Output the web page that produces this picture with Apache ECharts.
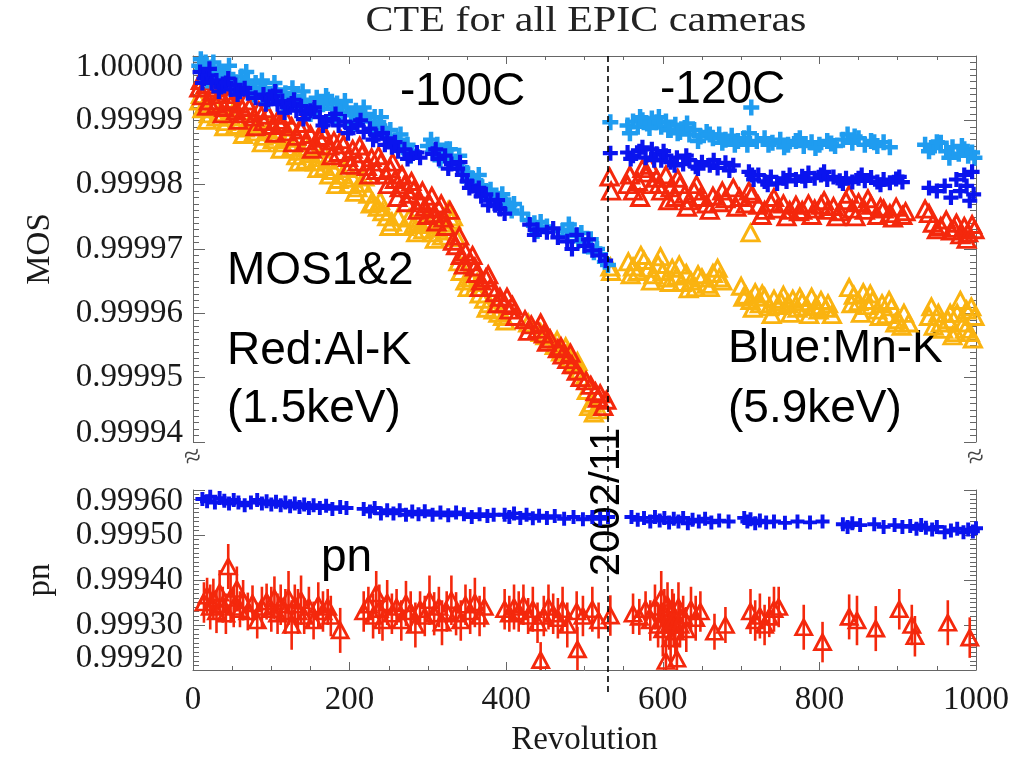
<!DOCTYPE html>
<html>
<head>
<meta charset="utf-8">
<script src="https://cdn.jsdelivr.net/npm/echarts@6/dist/echarts.min.js"></script>
<style>
html,body{margin:0;padding:0;background:#fff;}
#chart{width:1029px;height:758px;}
</style>
</head>
<body>
<div id="chart"></div>
<script>
// ---------------- DATA ----------------
const titleText = 'CTE for all EPIC cameras';
const xRange = [0, 1000];
const xStep = 200;
const mosRange = [0.99994, 1.00000];
const mosStep = 0.00001;
const pnRange = [0.99920, 0.99960];
const pnStep = 0.0001;
const dividerRev = [530];

// MOS Mn-K (light blue crosses)
const mosMnLight = [[8,0.9999985],[12,0.9999978],[16,0.9999990],[20,0.9999975],[24,0.9999982],[28,0.9999970],[33,0.9999978],[38,0.9999965],[44,0.9999972],[50,0.9999960],[56,0.9999958],
[62,0.9999968],[66,0.9999955],[70,0.9999962],[75,0.9999950],[80,0.9999958],[86,0.9999945],[92,0.9999950],
[100,0.9999940],[106,0.9999948],[112,0.9999935],[118,0.9999942],[124,0.9999930],[130,0.9999938],[136,0.9999925],
[142,0.9999932],[148,0.9999920],[154,0.9999915],[160,0.9999925],
[166,0.9999925],[172,0.9999932],[178,0.9999918],[184,0.9999926],[190,0.9999912],[196,0.9999920],[202,0.9999908],[208,0.9999915],[214,0.9999902],[220,0.9999910],[226,0.9999898],[232,0.9999905],[238,0.9999892],[244,0.9999888],
[250,0.9999875],[256,0.9999865],[262,0.9999870],[268,0.9999858],[274,0.9999862],[280,0.9999852],
[300,0.9999860],[306,0.9999850],[312,0.9999862],[318,0.9999845],[324,0.9999855],[330,0.9999840],
[338,0.9999835],[344,0.9999825],[350,0.9999818],[356,0.9999810],[362,0.9999805],[368,0.9999798],[374,0.9999790],[380,0.9999792],[386,0.9999782],[392,0.9999778],[398,0.9999772],[404,0.9999768],[410,0.9999770],
[428,0.9999745],[436,0.9999740],[444,0.9999742],[452,0.9999735],
[472,0.9999728],[478,0.9999720],[484,0.9999730],[492,0.9999712],[500,0.9999705],[508,0.9999715],[516,0.9999700],
[520,0.9999692],[526,0.9999680],[530,0.9999675],
[10,0.9999995],[18,0.9999962],[26,0.9999990],[35,0.9999958],[46,0.9999985],[58,0.9999945],[68,0.9999975],[78,0.9999940],[88,0.9999962],[96,0.9999930],[104,0.9999958],[115,0.9999925],[127,0.9999950],[140,0.9999945],[150,0.9999910],[158,0.9999935],[170,0.9999938],[182,0.9999905],[194,0.9999930],[206,0.9999895],[218,0.9999920],[230,0.9999885],[240,0.9999905],[252,0.9999885],[265,0.9999878],[278,0.9999845],[304,0.9999870],[316,0.9999838],[328,0.9999855],[340,0.9999845],[352,0.9999805],[365,0.9999815],[378,0.9999780],[395,0.9999785],[407,0.9999760],[420,0.9999755],[440,0.9999728],[480,0.9999738],[496,0.9999725],[512,0.9999695],
[533,0.9999897],
[555,0.9999892],[562,0.9999898],[568,0.9999890],[574,0.9999900],[580,0.9999895],[586,0.9999903],[592,0.9999897],[598,0.9999890],[604,0.9999898],[610,0.9999885],[616,0.9999893],[622,0.9999882],[628,0.9999888],[634,0.9999878],[640,0.9999885],[648,0.9999875],[656,0.9999882],[664,0.9999872],[672,0.9999878],[680,0.9999870],[688,0.9999876],[696,0.9999868],[704,0.9999872],[710,0.9999880],[713,0.9999920],[720,0.9999868],
[730,0.9999872],[740,0.9999865],[750,0.9999870],[760,0.9999862],[770,0.9999868],[780,0.9999860],[790,0.9999866],[800,0.9999862],[810,0.9999868],[820,0.9999860],[830,0.9999870],[836,0.9999878],[842,0.9999865],[850,0.9999872],[858,0.9999862],[866,0.9999868],[874,0.9999860],[882,0.9999866],[890,0.9999858],
[935,0.9999862],[945,0.9999858],[955,0.9999865],[962,0.9999852],[970,0.9999858],[978,0.9999848],[985,0.9999855],[990,0.9999845],[995,0.9999850],
[558,0.9999880],[571,0.9999905],[583,0.9999888],[595,0.9999905],[607,0.9999885],[619,0.9999880],[631,0.9999895],[645,0.9999868],[660,0.9999878],[676,0.9999865],[692,0.9999862],[708,0.9999862],[735,0.9999862],[755,0.9999858],[775,0.9999872],[795,0.9999857],[815,0.9999864],[845,0.9999875],[870,0.9999866],[940,0.9999852],[950,0.9999866],[966,0.9999842],[982,0.9999860],[998,0.9999842]];

// MOS Mn-K (dark blue crosses)
const mosMnDark = [[9,0.9999975],[14,0.9999965],[19,0.9999970],[24,0.9999958],[30,0.9999962],[36,0.9999952],[42,0.9999958],[48,0.9999948],[54,0.9999955],[60,0.9999945],[66,0.9999950],
[90,0.9999940],[96,0.9999932],[102,0.9999938],[108,0.9999925],[114,0.9999930],[120,0.9999920],[126,0.9999926],[132,0.9999915],[138,0.9999922],[144,0.9999910],[150,0.9999915],
[162,0.9999905],[170,0.9999898],[178,0.9999902],[186,0.9999892],[194,0.9999898],[202,0.9999888],[210,0.9999893],[218,0.9999882],[226,0.9999887],[234,0.9999876],[242,0.9999880],[248,0.9999872],
[254,0.9999858],[262,0.9999852],[270,0.9999855],[278,0.9999845],[286,0.9999850],
[306,0.9999848],[314,0.9999840],[322,0.9999845],[330,0.9999832],[338,0.9999825],
[344,0.9999815],[350,0.9999805],[356,0.9999798],[362,0.9999790],[368,0.9999782],[374,0.9999785],[380,0.9999775],[386,0.9999768],[392,0.9999762],
[430,0.9999738],[440,0.9999730],[452,0.9999726],[466,0.9999718],[478,0.9999712],[490,0.9999722],[500,0.9999705],[510,0.9999698],
[520,0.9999690],[527,0.9999682],
[12,0.9999958],[21,0.9999980],[33,0.9999945],[45,0.9999965],[57,0.9999940],[70,0.9999942],[80,0.9999935],[93,0.9999925],[105,0.9999945],[117,0.9999912],[129,0.9999932],[141,0.9999902],[155,0.9999920],[166,0.9999892],[182,0.9999910],[198,0.9999880],[214,0.9999900],[230,0.9999870],[245,0.9999862],[258,0.9999866],[274,0.9999840],[290,0.9999842],[310,0.9999855],[326,0.9999825],[341,0.9999835],[353,0.9999795],[365,0.9999795],[377,0.9999768],[389,0.9999776],[398,0.9999755],[436,0.9999722],[460,0.9999732],[484,0.9999700],[505,0.9999715],
[533,0.9999849],
[555,0.9999850],[562,0.9999845],[570,0.9999852],[578,0.9999842],[586,0.9999855],[592,0.9999848],[598,0.9999838],[604,0.9999845],[610,0.9999835],[618,0.9999842],[626,0.9999832],[634,0.9999838],[642,0.9999828],[650,0.9999835],[660,0.9999830],[670,0.9999826],[680,0.9999834],[690,0.9999830],
[710,0.9999820],[716,0.9999808],[722,0.9999815],[730,0.9999805],[738,0.9999812],[746,0.9999802],[754,0.9999810],[762,0.9999815],[770,0.9999808],[778,0.9999813],[786,0.9999818],[794,0.9999810],[802,0.9999815],[810,0.9999808],[818,0.9999812],[826,0.9999806],[834,0.9999810],[842,0.9999804],[850,0.9999810],[858,0.9999806],[866,0.9999811],[874,0.9999804],[882,0.9999808],[890,0.9999803],[898,0.9999809],[906,0.9999804],
[940,0.9999795],[950,0.9999790],[960,0.9999798],[968,0.9999780],[975,0.9999808],[980,0.9999790],[985,0.9999815],[988,0.9999798],[992,0.9999775],[995,0.9999820],[997,0.9999785],
[559,0.9999840],[574,0.9999858],[589,0.9999838],[601,0.9999852],[615,0.9999830],[630,0.9999845],[645,0.9999825],[665,0.9999838],[685,0.9999822],[714,0.9999815],[734,0.9999800],[758,0.9999805],[782,0.9999806],[806,0.9999820],[830,0.9999802],[854,0.9999815],[878,0.9999800],[902,0.9999812]];

// MOS Al-K (red triangles)
const mosAlRed = [[8,0.9999950],[12,0.9999938],[16,0.9999955],[20,0.9999930],[25,0.9999945],[30,0.9999925],[35,0.9999940],[40,0.9999920],[45,0.9999932],
[50,0.9999928],[55,0.9999915],[60,0.9999925],[66,0.9999910],[72,0.9999920],[78,0.9999905],[84,0.9999915],[90,0.9999898],[96,0.9999908],[102,0.9999892],[108,0.9999900],
[114,0.9999895],[120,0.9999882],[126,0.9999890],[132,0.9999875],[138,0.9999885],[144,0.9999868],[150,0.9999878],[156,0.9999862],[162,0.9999872],
[168,0.9999875],[174,0.9999860],[180,0.9999868],[186,0.9999850],[192,0.9999862],[198,0.9999842],[204,0.9999855],[210,0.9999835],[216,0.9999848],[222,0.9999828],[228,0.9999842],[234,0.9999822],[240,0.9999835],[246,0.9999815],[252,0.9999825],
[258,0.9999808],[264,0.9999795],[270,0.9999800],[276,0.9999785],[282,0.9999792],
[290,0.9999775],[296,0.9999765],[302,0.9999770],[308,0.9999755],[314,0.9999762],[320,0.9999748],
[332,0.9999712],[336,0.9999705],[342,0.9999690],[348,0.9999695],[354,0.9999680],[360,0.9999672],
[362,0.9999662],[368,0.9999650],[374,0.9999655],[380,0.9999640],[386,0.9999632],[392,0.9999625],[398,0.9999615],[404,0.9999605],[408,0.9999612],
[424,0.9999590],[432,0.9999582],[440,0.9999575],[448,0.9999568],[456,0.9999560],
[466,0.9999545],[472,0.9999535],[478,0.9999528],[484,0.9999520],[490,0.9999510],
[508,0.9999488],[514,0.9999478],[520,0.9999475],[528,0.9999465],
[10,0.9999962],[18,0.9999922],[28,0.9999950],[38,0.9999910],[48,0.9999940],[58,0.9999900],[68,0.9999930],[80,0.9999890],[92,0.9999918],[105,0.9999880],[116,0.9999908],[128,0.9999865],[140,0.9999895],[152,0.9999855],[165,0.9999885],[177,0.9999845],[189,0.9999870],[201,0.9999830],[213,0.9999860],[225,0.9999815],[237,0.9999845],[249,0.9999800],[255,0.9999835],[261,0.9999780],[267,0.9999815],[273,0.9999772],[279,0.9999805],[287,0.9999760],[293,0.9999790],[299,0.9999752],[305,0.9999782],[311,0.9999742],[317,0.9999770],[323,0.9999735],[328,0.9999760],[340,0.9999720],[346,0.9999675],[357,0.9999690],[366,0.9999640],[377,0.9999660],[389,0.9999615],[401,0.9999625],[412,0.9999595],[428,0.9999572],[444,0.9999585],[452,0.9999555],[470,0.9999548],[482,0.9999538],[495,0.9999500],[502,0.9999495],[517,0.9999468],[524,0.9999455],
[532,0.9999812],[534,0.9999790],
[555,0.9999800],[562,0.9999790],[568,0.9999805],[574,0.9999825],[580,0.9999818],[586,0.9999800],[592,0.9999810],[598,0.9999790],[604,0.9999815],[610,0.9999795],[616,0.9999780],[622,0.9999800],[628,0.9999785],[634,0.9999775],[640,0.9999790],[648,0.9999780],[656,0.9999770],[664,0.9999782],[672,0.9999772],[680,0.9999778],
[690,0.9999795],[698,0.9999780],[706,0.9999770],[714,0.9999785],[722,0.9999768],[730,0.9999760],[738,0.9999772],[746,0.9999762],[754,0.9999770],[762,0.9999760],
[770,0.9999768],[778,0.9999760],[786,0.9999770],[794,0.9999762],[802,0.9999768],[810,0.9999760],[818,0.9999766],[826,0.9999758],[834,0.9999775],[842,0.9999762],[850,0.9999772],[858,0.9999760],[866,0.9999768],[874,0.9999752],[882,0.9999762],[890,0.9999755],[898,0.9999765],[906,0.9999752],
[935,0.9999762],[945,0.9999740],[955,0.9999735],[962,0.9999745],[968,0.9999728],[975,0.9999740],[980,0.9999722],[985,0.9999735],[990,0.9999725],[995,0.9999738],
[558,0.9999815],[571,0.9999780],[583,0.9999830],[595,0.9999800],[607,0.9999775],[619,0.9999810],[631,0.9999765],[643,0.9999800],[660,0.9999760],[676,0.9999790],[694,0.9999765],[710,0.9999790],[726,0.9999752],[742,0.9999780],[758,0.9999750],[774,0.9999758],[790,0.9999752],[806,0.9999775],[822,0.9999750],[838,0.9999785],[846,0.9999750],[862,0.9999778],[878,0.9999765],[894,0.9999748],[910,0.9999758],[940,0.9999755],[950,0.9999730],[972,0.9999732],[988,0.9999715],[998,0.9999730]];

// MOS Al-K (orange triangles)
const mosAlOrange = [[8,0.9999930],[12,0.9999918],[16,0.9999925],[20,0.9999910],[25,0.9999920],[30,0.9999905],[36,0.9999912],[42,0.9999898],[48,0.9999905],[54,0.9999892],[60,0.9999900],[66,0.9999888],
[72,0.9999895],[78,0.9999882],[84,0.9999890],[90,0.9999875],[96,0.9999885],[102,0.9999870],[108,0.9999878],[114,0.9999865],[120,0.9999872],
[126,0.9999858],[132,0.9999845],[138,0.9999852],[144,0.9999838],[150,0.9999848],[156,0.9999835],[162,0.9999842],
[168,0.9999828],[174,0.9999815],[180,0.9999822],[186,0.9999808],[192,0.9999815],[198,0.9999800],[204,0.9999810],[210,0.9999795],[216,0.9999802],
[224,0.9999785],[230,0.9999772],[236,0.9999765],[242,0.9999758],[248,0.9999750],[254,0.9999742],
[276,0.9999748],[282,0.9999738],[288,0.9999742],[294,0.9999730],[300,0.9999738],[306,0.9999725],[312,0.9999732],[318,0.9999720],[324,0.9999728],[326,0.9999760],[332,0.9999750],[330,0.9999745],[336,0.9999718],
[342,0.9999665],[348,0.9999650],[354,0.9999655],[360,0.9999640],[366,0.9999630],[372,0.9999622],[378,0.9999615],[384,0.9999605],[390,0.9999600],[396,0.9999595],
[428,0.9999585],[444,0.9999570],
[456,0.9999560],[462,0.9999550],[470,0.9999540],[476,0.9999548],[482,0.9999530],[488,0.9999520],[494,0.9999512],[500,0.9999500],
[506,0.9999455],[512,0.9999445],[518,0.9999450],
[10,0.9999940],[18,0.9999900],[28,0.9999925],[40,0.9999890],[52,0.9999915],[64,0.9999878],[76,0.9999900],[88,0.9999865],[100,0.9999892],[112,0.9999855],[124,0.9999875],[135,0.9999835],[147,0.9999858],[159,0.9999825],[171,0.9999838],[183,0.9999800],[195,0.9999825],[207,0.9999788],[219,0.9999812],[227,0.9999770],[239,0.9999775],[251,0.9999735],[262,0.9999750],[270,0.9999735],[285,0.9999725],[297,0.9999745],[309,0.9999715],[321,0.9999740],[339,0.9999680],[351,0.9999640],[363,0.9999648],[375,0.9999608],[387,0.9999615],[399,0.9999588],[450,0.9999565],[465,0.9999558],[479,0.9999540],[491,0.9999525],[503,0.9999480],[509,0.9999460],
[533,0.9999672],[534,0.9999665],
[556,0.9999680],[562,0.9999672],[568,0.9999665],[576,0.9999682],[582,0.9999670],[588,0.9999660],[594,0.9999676],[600,0.9999665],[606,0.9999655],[612,0.9999670],[618,0.9999658],[624,0.9999648],[630,0.9999662],[636,0.9999650],[642,0.9999640],[650,0.9999655],[656,0.9999645],[664,0.9999662],[670,0.9999670],[676,0.9999650],
[712,0.9999725],
[700,0.9999642],[706,0.9999628],[712,0.9999620],[718,0.9999632],[724,0.9999615],[730,0.9999625],[736,0.9999610],[742,0.9999622],[748,0.9999612],[754,0.9999628],[760,0.9999615],[766,0.9999622],[772,0.9999608],[778,0.9999618],[784,0.9999610],[790,0.9999625],[796,0.9999612],[802,0.9999620],[808,0.9999608],[816,0.9999598],
[838,0.9999640],[844,0.9999628],[850,0.9999618],[856,0.9999632],[862,0.9999612],[868,0.9999620],[874,0.9999605],[880,0.9999615],[886,0.9999598],[892,0.9999610],[900,0.9999590],[908,0.9999600],[914,0.9999585],
[940,0.9999595],[946,0.9999580],[952,0.9999600],[958,0.9999575],[964,0.9999590],[970,0.9999565],[976,0.9999600],[980,0.9999620],[984,0.9999585],[988,0.9999605],[992,0.9999570],[996,0.9999560],[998,0.9999595],
[559,0.9999660],[572,0.9999690],[585,0.9999650],[597,0.9999688],[609,0.9999648],[621,0.9999675],[633,0.9999638],[645,0.9999660],[660,0.9999640],[672,0.9999655],[703,0.9999625],[715,0.9999608],[727,0.9999630],[739,0.9999598],[751,0.9999618],[763,0.9999600],[775,0.9999625],[787,0.9999598],[799,0.9999605],[811,0.9999615],[841,0.9999615],[853,0.9999600],[865,0.9999630],[877,0.9999595],[889,0.9999620],[897,0.9999585],[905,0.9999580],[943,0.9999610],[955,0.9999585],[967,0.9999600],[974,0.9999570],[986,0.9999575],[994,0.9999610]];

// pn Mn-K (blue crosses)
const pnMn = [[12,0.999580],[18,0.999575],[22,0.999585],[28,0.999572],[34,0.999582],[40,0.999576],[46,0.999570],[52,0.999578],[58,0.999572],[66,0.999566],[74,0.999572],[82,0.999578],[88,0.999570],[94,0.999575],[100,0.999568],[106,0.999574],[112,0.999566],[118,0.999572],[124,0.999564],[130,0.999570],[136,0.999562],[142,0.999568],[148,0.999560],[154,0.999566],[162,0.999560],[170,0.999565],[178,0.999558],[188,0.999562],[196,0.999560],
[218,0.999558],[226,0.999552],[232,0.999560],[240,0.999548],[248,0.999555],[256,0.999548],[264,0.999555],[272,0.999545],[280,0.999552],[288,0.999546],[296,0.999553],[306,0.999545],[316,0.999550],[326,0.999544],[336,0.999550],[346,0.999546],[356,0.999540],[366,0.999546],[376,0.999542],[384,0.999545],
[398,0.999545],[404,0.999540],[410,0.999548],[418,0.999538],[426,0.999545],[434,0.999537],[442,0.999543],[452,0.999538],[462,0.999542],[474,0.999536],[486,0.999540],[498,0.999535],[510,0.999540],[520,0.999536],[530,0.999540],
[560,0.999540],[568,0.999534],[576,0.999538],[584,0.999530],[590,0.999540],[596,0.999532],[602,0.999538],[608,0.999528],[614,0.999536],[620,0.999530],[626,0.999538],[632,0.999526],[638,0.999534],[646,0.999530],[654,0.999536],[662,0.999528],[672,0.999532],[684,0.999530],
[704,0.999538],[708,0.999530],[712,0.999535],[718,0.999526],[724,0.999532],[732,0.999528],[742,0.999530],[756,0.999527],[772,0.999530],[788,0.999528],[804,0.999530],
[830,0.999524],[836,0.999518],[842,0.999526],[852,0.999522],[870,0.999524],[882,0.999518],[896,0.999522],[906,0.999518],[916,0.999520],[924,0.999514],[930,0.999522],[936,0.999516],[944,0.999512],[950,0.999518],[960,0.999506],[968,0.999510],[976,0.999514],[984,0.999506],[990,0.999512],[996,0.999508],[1000,0.999515]];

// pn Al-K (red triangles) : [rev, value, error]
const pnAl = [[14,0.999350,0.000045],[18,0.999365,0.000040],[22,0.999340,0.000050],[26,0.999358,0.000045],[30,0.999330,0.000048],[34,0.999372,0.000050],[38,0.999345,0.000040],[42,0.999325,0.000045],[45,0.999430,0.000050],[48,0.999360,0.000055],[52,0.999340,0.000045],[56,0.999380,0.000050],[60,0.999335,0.000040],[64,0.999355,0.000045],[70,0.999330,0.000042],[76,0.999348,0.000040],[82,0.999310,0.000040],[88,0.999340,0.000045],[94,0.999352,0.000040],[100,0.999335,0.000050],[104,0.999360,0.000048],[108,0.999325,0.000045],[112,0.999345,0.000045],[118,0.999330,0.000050],[122,0.999360,0.000060],[126,0.999300,0.000055],[130,0.999345,0.000045],[134,0.999330,0.000050],[138,0.999355,0.000055],[142,0.999320,0.000040],[148,0.999340,0.000045],[154,0.999310,0.000042],[160,0.999345,0.000050],[166,0.999330,0.000045],[172,0.999340,0.000040],[176,0.999320,0.000045],
[188,0.999288,0.000050],
[218,0.999330,0.000045],[224,0.999345,0.000040],[230,0.999320,0.000050],[234,0.999370,0.000050],[238,0.999335,0.000055],[242,0.999310,0.000045],[248,0.999350,0.000050],[254,0.999325,0.000045],[260,0.999340,0.000040],[266,0.999310,0.000045],[272,0.999348,0.000050],[278,0.999330,0.000045],[284,0.999300,0.000050],[290,0.999335,0.000040],[296,0.999320,0.000045],[302,0.999355,0.000055],[308,0.999325,0.000048],[314,0.999340,0.000045],[318,0.999305,0.000050],[324,0.999330,0.000045],[330,0.999355,0.000055],[336,0.999325,0.000048],[342,0.999310,0.000045],[348,0.999345,0.000045],[354,0.999330,0.000050],[360,0.999350,0.000055],[366,0.999320,0.000045],[372,0.999340,0.000045],
[398,0.999335,0.000045],[404,0.999325,0.000040],[410,0.999340,0.000050],[416,0.999330,0.000045],[422,0.999345,0.000045],[428,0.999320,0.000040],[434,0.999335,0.000050],[440,0.999305,0.000045],[444,0.999222,0.000040],[448,0.999320,0.000045],[454,0.999340,0.000050],[460,0.999325,0.000045],[466,0.999315,0.000045],[472,0.999335,0.000050],[478,0.999300,0.000050],[491,0.999246,0.000050],[490,0.999330,0.000045],[498,0.999320,0.000045],[510,0.999335,0.000050],[518,0.999310,0.000040],[533,0.999321,0.000045],
[562,0.999325,0.000045],[570,0.999318,0.000040],[578,0.999335,0.000040],[584,0.999310,0.000045],[590,0.999340,0.000050],[594,0.999300,0.000050],[598,0.999360,0.000060],[600,0.999290,0.000060],[602,0.999325,0.000055],[604,0.999220,0.000050],[606,0.999345,0.000050],[608,0.999300,0.000055],[610,0.999270,0.000055],[612,0.999330,0.000050],[614,0.999310,0.000060],[616,0.999285,0.000050],[618,0.999225,0.000045],[620,0.999340,0.000055],[622,0.999300,0.000050],[626,0.999320,0.000045],[630,0.999290,0.000050],[636,0.999335,0.000050],[642,0.999315,0.000050],[648,0.999330,0.000045],
[666,0.999285,0.000040],[680,0.999300,0.000040],
[712,0.999330,0.000050],[718,0.999310,0.000045],[724,0.999320,0.000050],[730,0.999300,0.000045],[736,0.999318,0.000045],[742,0.999335,0.000050],[748,0.999340,0.000045],
[780,0.999295,0.000050],[804,0.999262,0.000045],[838,0.999318,0.000050],[848,0.999310,0.000055],[872,0.999292,0.000050],[902,0.999335,0.000045],[918,0.999300,0.000045],[922,0.999275,0.000045],[964,0.999305,0.000050],[992,0.999272,0.000045]];

// ---------------- STYLE ----------------
const C_LIGHT = '#1f9cf0', C_DARK = '#0a14ee', C_RED = '#f4280c', C_ORANGE = '#fab310';
const AXIS_C = '#666';
const SERIF = '"Liberation Serif", "Times New Roman", serif';
const SANS = '"Liberation Sans", Arial, Helvetica, sans-serif';
const LBL_C = '#1a1a1a';
const PLUS = 'path://M3.6,0H6.4V3.6H10V6.4H6.4V10H3.6V6.4H0V3.6H3.6Z';

const chart = echarts.init(document.getElementById('chart'), null, {renderer: 'canvas'});

function yLabel(rangeArr, padTop, padBottom) {
  return {
    show: true, fontFamily: SERIF, fontSize: 33, color: LBL_C, margin: 10,
    formatter: function (v) {
      const s = v.toFixed(5);
      if (Math.abs(v - rangeArr[1]) < 1e-9) return '{a|' + s + '}';
      if (Math.abs(v - rangeArr[0]) < 1e-9) return '{b|' + s + '}';
      return s;
    },
    rich: {
      a: {fontFamily: SERIF, fontSize: 33, color: LBL_C, padding: [padTop, 0, 0, 0]},
      b: {fontFamily: SERIF, fontSize: 33, color: LBL_C, padding: [0, 0, padBottom, 0]}
    }
  };
}
const lineSt = {show: true, lineStyle: {color: AXIS_C, width: 1}};
const yTick = {show: true, inside: true, length: 12, lineStyle: {color: AXIS_C, width: 1}};
const yMinor = {show: true, splitNumber: 10, length: 6, lineStyle: {color: AXIS_C, width: 1}};
const xTick = {show: true, inside: true, length: 8, lineStyle: {color: AXIS_C, width: 1}};
const xMinor = {show: true, splitNumber: 4, length: 4, lineStyle: {color: AXIS_C, width: 1}};

function cross(name, data, color, xi, yi, size) {
  return {name, type: 'scatter', xAxisIndex: xi, yAxisIndex: yi, data,
    symbol: PLUS, symbolSize: size, itemStyle: {color: color, opacity: 1}, clip: true};
}
function tri(name, data, color, xi, yi, size, bw) {
  return {name, type: 'scatter', xAxisIndex: xi, yAxisIndex: yi, data,
    symbol: 'triangle', symbolSize: size,
    itemStyle: {color: 'rgba(255,255,255,0)', borderColor: color, borderWidth: bw, opacity: 1}, clip: true};
}

const option = {
  animation: false,
  backgroundColor: '#fff',
  grid: [
    {left: 193, right: 53, top: 56, height: 386},
    {left: 193, right: 53, top: 490, height: 182},
    {left: 193, right: 53, top: 52, height: 640}
  ],
  xAxis: [
    {gridIndex: 0, type: 'value', position: 'top', min: xRange[0], max: xRange[1], interval: xStep,
      axisLine: lineSt, axisTick: xTick, minorTick: xMinor, axisLabel: {show: false}, splitLine: {show: false}},
    {gridIndex: 1, type: 'value', position: 'bottom', min: xRange[0], max: xRange[1], interval: xStep,
      axisLine: lineSt, axisTick: xTick, minorTick: xMinor, splitLine: {show: false},
      axisLabel: {fontFamily: SERIF, fontSize: 33, color: LBL_C, margin: 14, formatter: v => String(v)},
      name: 'Revolution', nameLocation: 'middle', nameGap: 54,
      nameTextStyle: {fontFamily: SERIF, fontSize: 33, color: LBL_C}},
    {gridIndex: 2, type: 'value', min: xRange[0], max: xRange[1], show: false}
  ],
  yAxis: [
    {gridIndex: 0, type: 'value', position: 'left', min: mosRange[0], max: mosRange[1], interval: mosStep,
      axisLine: lineSt, axisTick: yTick, minorTick: yMinor, splitLine: {show: false},
      axisLabel: yLabel(mosRange, 22, 18),
      name: 'MOS', nameLocation: 'middle', nameGap: 136,
      nameTextStyle: {fontFamily: SERIF, fontSize: 33, color: LBL_C}},
    {gridIndex: 0, type: 'value', position: 'right', min: mosRange[0], max: mosRange[1], interval: mosStep,
      axisLine: lineSt, axisTick: yTick, minorTick: yMinor, splitLine: {show: false}, axisLabel: {show: false}},
    {gridIndex: 1, type: 'value', position: 'left', min: pnRange[0], max: pnRange[1], interval: pnStep,
      axisLine: lineSt, axisTick: yTick, minorTick: yMinor, splitLine: {show: false},
      axisLabel: yLabel(pnRange, 22, 24),
      name: 'pn', nameLocation: 'middle', nameGap: 136,
      nameTextStyle: {fontFamily: SERIF, fontSize: 33, color: LBL_C}},
    {gridIndex: 1, type: 'value', position: 'right', min: pnRange[0], max: pnRange[1], interval: pnStep,
      axisLine: lineSt, axisTick: yTick, minorTick: yMinor, splitLine: {show: false}, axisLabel: {show: false}},
    {gridIndex: 2, type: 'value', min: 0, max: 1, show: false}
  ],
  series: [
    tri('MOS Al-K (orange)', mosAlOrange, C_ORANGE, 0, 0, [17, 16], 3),
    tri('MOS Al-K (red)', mosAlRed, C_RED, 0, 0, [17, 16], 3),
    cross('MOS Mn-K (light)', mosMnLight, C_LIGHT, 0, 0, 16),
    cross('MOS Mn-K (dark)', mosMnDark, C_DARK, 0, 0, 15),
    cross('pn Mn-K', pnMn, C_DARK, 1, 2, 14),
    {
      name: 'pn Al-K errors', type: 'custom', xAxisIndex: 1, yAxisIndex: 2, clip: true,
      data: pnAl,
      encode: {x: 0, y: 1},
      renderItem: function (params, api) {
        const x = api.value(0), v = api.value(1), e = api.value(2);
        const p1 = api.coord([x, v - e]), p2 = api.coord([x, v + e]);
        return {type: 'line', shape: {x1: p1[0], y1: p1[1], x2: p2[0], y2: p2[1]},
          style: {stroke: C_RED, lineWidth: 2.6}};
      }
    },
    tri('pn Al-K', pnAl.map(d => [d[0], d[1]]), C_RED, 1, 2, [16, 15], 2.8),
    {
      name: 'divider', type: 'line', xAxisIndex: 2, yAxisIndex: 4, symbol: 'none',
      data: [[dividerRev[0], 0], [dividerRev[0], 1]],
      lineStyle: {color: '#000', width: 1.6, type: [6, 4]}
    }
  ],
  graphic: [
    {type: 'text', x: 586, y: 22, scaleX: 1.2, style: {text: titleText, font: '35px ' + SERIF, fill: '#222', textAlign: 'center', textVerticalAlign: 'middle'}},
    {type: 'text', x: 400, y: 92, style: {text: '-100C', font: '46px ' + SANS, fill: '#000', textAlign: 'left', textVerticalAlign: 'middle'}},
    {type: 'text', x: 660, y: 90, style: {text: '-120C', font: '46px ' + SANS, fill: '#000', textAlign: 'left', textVerticalAlign: 'middle'}},
    {type: 'text', x: 227, y: 271, style: {text: 'MOS1&2', font: '46px ' + SANS, fill: '#000', textAlign: 'left', textVerticalAlign: 'middle'}},
    {type: 'text', x: 227, y: 351, style: {text: 'Red:Al-K', font: '46px ' + SANS, fill: '#000', textAlign: 'left', textVerticalAlign: 'middle'}},
    {type: 'text', x: 227, y: 409, style: {text: '(1.5keV)', font: '46px ' + SANS, fill: '#000', textAlign: 'left', textVerticalAlign: 'middle'}},
    {type: 'text', x: 728, y: 349, style: {text: 'Blue:Mn-K', font: '46px ' + SANS, fill: '#000', textAlign: 'left', textVerticalAlign: 'middle'}},
    {type: 'text', x: 728, y: 409, style: {text: '(5.9keV)', font: '46px ' + SANS, fill: '#000', textAlign: 'left', textVerticalAlign: 'middle'}},
    {type: 'text', x: 321, y: 558, style: {text: 'pn', font: '46px ' + SANS, fill: '#000', textAlign: 'left', textVerticalAlign: 'middle'}},
    {type: 'text', x: 607, y: 502, rotation: Math.PI / 2, style: {text: '2002/11', font: '42px ' + SANS, fill: '#000', textAlign: 'center', textVerticalAlign: 'middle'}},
    {type: 'text', x: 193, y: 458, rotation: 0.3, style: {text: '\u2248', font: '30px ' + SERIF, fill: '#444', textAlign: 'center', textVerticalAlign: 'middle'}},
    {type: 'text', x: 976, y: 458, rotation: 0.3, style: {text: '\u2248', font: '30px ' + SERIF, fill: '#444', textAlign: 'center', textVerticalAlign: 'middle'}}
  ]
};
chart.setOption(option);
</script>
</body>
</html>
